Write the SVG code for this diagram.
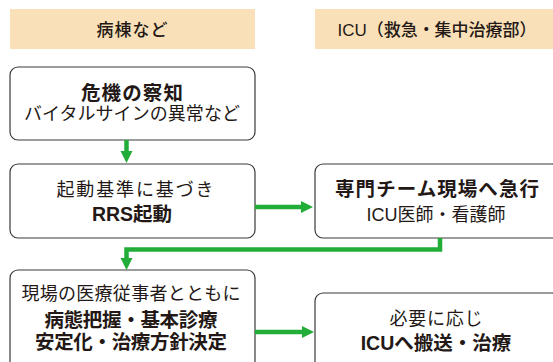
<svg xmlns="http://www.w3.org/2000/svg" width="553" height="362" viewBox="0 0 553 362">
  <style>
    .hdr { fill: #FAE0B8; }
    .box { fill: #FFFFFF; stroke: #3A3A3A; stroke-width: 1.2; }
    text { font-family: "Liberation Sans", "Noto Sans CJK JP", sans-serif; fill: #231815; text-anchor: middle; }
    .h { font-size: 17px; font-weight: 500; }
    .r { font-size: 18px; font-weight: 400; }
    .b { font-size: 19.5px; font-weight: 700; }
    .conn { fill: none; stroke: #22AC38; stroke-width: 4.5; stroke-linejoin: miter; marker-end: url(#ah); }
  </style>
  <defs>
    <marker id="ah" markerUnits="userSpaceOnUse" markerWidth="12" markerHeight="12" refX="0" refY="6" orient="auto" overflow="visible">
      <path d="M0,0 L12,6 L0,12 Z" fill="#22AC38"/>
    </marker>
  </defs>
  <rect width="553" height="362" fill="#FFFFFF"/>

  <g id="header-ward">
    <rect class="hdr" x="10" y="9" width="245" height="40"/>
    <text class="h" x="132" y="36" textLength="71" lengthAdjust="spacing">病棟など</text>
  </g>
  <g id="header-icu">
    <rect class="hdr" x="315" y="9" width="238" height="40"/>
    <text class="h" x="437" y="36" textLength="199" lengthAdjust="spacing">ICU（救急・集中治療部）</text>
  </g>

  <g id="node-detect">
    <rect class="box" x="10" y="67" width="245" height="73" rx="8"/>
    <text class="b" x="132" y="99.5" textLength="102" lengthAdjust="spacing">危機の察知</text>
    <text class="r" x="132" y="120" textLength="216" lengthAdjust="spacing">バイタルサインの異常など</text>
  </g>
  <g id="node-rrs">
    <rect class="box" x="10" y="164" width="245" height="74" rx="8"/>
    <text class="r" x="135" y="196" textLength="157" lengthAdjust="spacing">起動基準に基づき</text>
    <text class="b" x="132" y="221">RRS起動</text>
  </g>
  <g id="node-team">
    <rect class="box" x="315" y="164" width="245" height="74" rx="8"/>
    <text class="b" x="437" y="196" textLength="204" lengthAdjust="spacing">専門チーム現場へ急行</text>
    <text class="r" x="436" y="221">ICU医師・看護師</text>
  </g>
  <g id="node-assess">
    <rect class="box" x="10" y="270" width="245" height="100" rx="8"/>
    <text class="r" x="131" y="300" textLength="219" lengthAdjust="spacing">現場の医療従事者とともに</text>
    <text class="b" x="131" y="327" textLength="173" lengthAdjust="spacing">病態把握・基本診療</text>
    <text class="b" x="131" y="349" textLength="192" lengthAdjust="spacing">安定化・治療方針決定</text>
  </g>
  <g id="node-transfer">
    <rect class="box" x="315" y="293" width="245" height="80" rx="8"/>
    <text class="r" x="436" y="325" textLength="93" lengthAdjust="spacing">必要に応じ</text>
    <text class="b" x="436" y="350">ICUへ搬送・治療</text>
  </g>

  <g id="connectors">
    <path class="conn" d="M126.5,140 L126.5,151"/>
    <path class="conn" d="M255,207 L301,207"/>
    <path class="conn" d="M440,238 L440,249.5 L126.5,249.5 L126.5,258"/>
    <path class="conn" d="M255,332 L302,332"/>
  </g>
</svg>
